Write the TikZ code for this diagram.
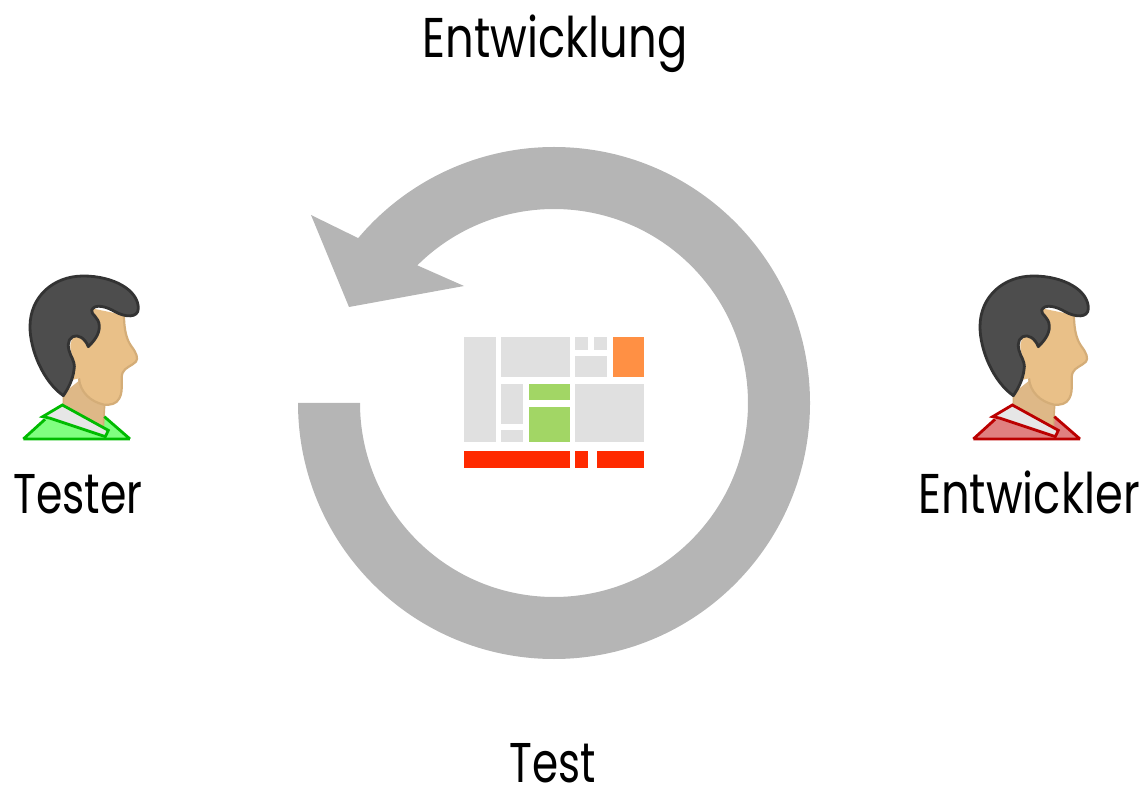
\documentclass[tikz,border=0pt]{standalone}
\usepackage{fontspec}
\setmainfont{Poppins}[FakeStretch=0.8]
\definecolor{ringgray}{HTML}{B5B5B5}
\definecolor{uigray}{HTML}{E0E0E0}
\definecolor{uiorange}{HTML}{FF9044}
\definecolor{uigreen}{HTML}{A2D665}
\definecolor{uired}{HTML}{FF2A00}
\definecolor{hairfill}{HTML}{4D4D4D}
\definecolor{hairline}{HTML}{333333}
\definecolor{skin}{HTML}{E9C088}
\definecolor{skinline}{HTML}{D4AD78}
\definecolor{neck}{HTML}{DEB887}
\definecolor{collar}{HTML}{E6E6E6}
\definecolor{gshirt}{HTML}{80FF80}
\definecolor{gline}{HTML}{00BB00}
\definecolor{rshirt}{HTML}{E08080}
\definecolor{rline}{HTML}{BB0000}
\tikzset{
  uibox/.style={fill=#1,draw=none},
  label text/.style={inner sep=0pt,anchor=base,text=black,font=\fontsize{56}{62}\selectfont},
  shirtline/.style={line width=2.8pt,line join=miter},
}
\newcommand{\uirect}[5]{\fill[uibox=#1] (#2,{788-#3}) rectangle (#4,{788-#5});}
\newcommand{\person}[3]{%
\begin{scope}[shift={(#1,788-260)},xscale=1/3,yscale=-1/3]
  % shirt
  \fill[#2] (70,537) -- (135,478) -- (187,435) -- (313,470) -- (390,537) -- cycle;
  % neck
  \fill[neck] (190,400) -- (190,436) -- (310,502) -- (314,432) -- (240,360) -- cycle;
  \draw[skinline,line width=1.6pt] (190,400) -- (190,436) (310,502) -- (314,434);
  \draw[#3,shirtline] (70,537) -- (135,478) (390,537) -- (313,470) (70,537) -- (390,537);
  % face
  \fill[skin] (225,315) .. controls (215,280) and (205,260) .. (215,240) -- (275,145)
    -- (372,165) .. controls (372,210) and (380,240) .. (395,260)
    .. controls (410,280) and (415,295) .. (408,305)
    .. controls (395,318) and (375,322) .. (368,338)
    .. controls (360,355) and (372,390) .. (358,415)
    .. controls (350,432) and (330,436) .. (312,434)
    .. controls (270,425) and (240,395) .. (237,355) -- (215,360) -- cycle;
  \draw[skinline,line width=2.2pt] (372,165) .. controls (372,210) and (380,240) .. (395,260)
    .. controls (410,280) and (415,295) .. (408,305)
    .. controls (395,318) and (375,322) .. (368,338)
    .. controls (360,355) and (372,390) .. (358,415)
    .. controls (350,432) and (330,436) .. (312,434)
    .. controls (270,425) and (240,395) .. (237,355);
  % hair
  \draw[fill=hairfill,draw=hairline,line width=2.8pt,line join=round]
    (190,407) .. controls (130,365) and (90,270) .. (90,200)
    .. controls (90,110) and (160,48) .. (250,48)
    .. controls (340,48) and (415,90) .. (415,145)
    .. controls (415,175) and (375,172) .. (345,155)
    .. controls (320,140) and (285,130) .. (275,150)
    .. controls (272,165) and (298,170) .. (298,200)
    .. controls (298,225) and (280,245) .. (265,260)
    .. controls (255,235) and (235,222) .. (218,230)
    .. controls (200,240) and (203,265) .. (212,285)
    .. controls (222,305) and (225,315) .. (222,330)
    .. controls (218,360) and (205,385) .. (190,407) -- cycle;
  % collar
  \draw[fill=collar,draw=#3,shirtline] (128,470) -- (187,435) -- (325,511) -- (316,530) -- (148,474) -- cycle;
\end{scope}}
\begin{document}
\begin{tikzpicture}[x=1pt,y=1pt]
\useasboundingbox (0,0) rectangle (1148,788);
% cycle arrow
\fill[ringgray] (298,385) arc[start angle=180,end angle=499.9,radius=256pt]
  -- (311,573) -- (349,481) -- (464,502)
  -- ({554+194*cos(494.8)},{385+194*sin(494.8)})
  arc[start angle=494.8,end angle=180,radius=194pt] -- cycle;
% interface board
\uirect{uigray}{464}{337}{495.5}{442.5}
\uirect{uigray}{501}{337}{569.5}{377.5}
\uirect{uigray}{575}{337}{588}{350}
\uirect{uigray}{594}{337}{606.5}{350}
\uirect{uigray}{575}{356}{606.5}{377.5}
\uirect{uiorange}{612.5}{337}{643.5}{377.5}
\uirect{uigray}{501}{384}{523}{424}
\uirect{uigray}{501}{430}{523}{442.5}
\uirect{uigreen}{529}{384}{569.5}{400.5}
\uirect{uigreen}{529}{407}{569.5}{442.5}
\uirect{uigray}{575}{384}{643.5}{442.5}
\uirect{uired}{464}{450.5}{569.5}{467.5}
\uirect{uired}{575}{450.5}{588}{467.5}
\uirect{uired}{597}{451}{643.5}{467.5}
% people
\person{0}{gshirt}{gline}
\person{950}{rshirt}{rline}
% labels
\node[label text] (top) at (555,730) {Entwicklung};
\node[label text] (bottom) at (553,6) {\scalebox{0.94}[1]{Test}};
\node[label text] (left) at (78,275) {\scalebox{0.95}[1]{Tester}};
\node[label text] (right) at (1029,275) {Entwickler};
\end{tikzpicture}
\end{document}
